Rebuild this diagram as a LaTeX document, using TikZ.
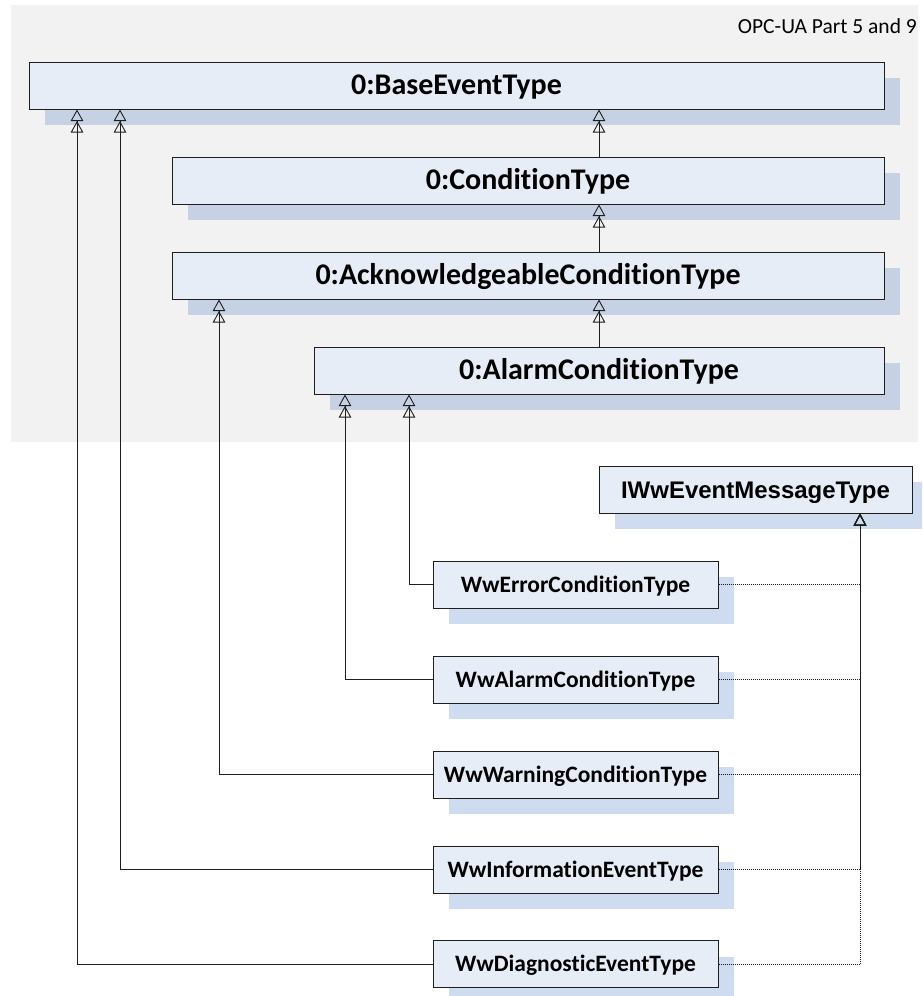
\documentclass[tikz,border=0pt]{standalone}
\usepackage{fontspec}
\setmainfont{Carlito}[Ligatures=NoCommon]
\newfontfamily\arialfont{Liberation Sans}
\usetikzlibrary{arrows.meta,shadows}

\definecolor{panelgray}{RGB}{242,242,242}
\definecolor{boxfill}{RGB}{230,237,247}
\definecolor{shadowtop}{RGB}{198,209,227}
\definecolor{shadowlow}{RGB}{207,219,238}
\definecolor{edgecol}{RGB}{30,30,30}

\begin{document}
\begin{tikzpicture}[x=1pt,y=-1pt,
  typebox/.style={draw=edgecol,line width=1pt,fill=boxfill,inner sep=0pt,
    minimum height=47pt,anchor=center},
  topbox/.style={typebox,font=\fontsize{30}{34}\selectfont\bfseries,
    text height=18.5pt,text depth=0pt,
    drop shadow={shadow xshift=15.5pt,shadow yshift=-16pt,fill=shadowtop,draw=none,opacity=1}},
  lowbox/.style={typebox,minimum width=285pt,
    font=\fontsize{23.5}{27}\selectfont\bfseries,
    text height=15pt,text depth=0pt,
    drop shadow={shadow xshift=15.5pt,shadow yshift=-16pt,fill=shadowlow,draw=none,opacity=1}},
  ifacebox/.style={typebox,minimum width=313pt,
    font=\arialfont\fontsize{24}{28}\selectfont\bfseries,
    text height=17pt,text depth=0pt,
    drop shadow={shadow xshift=15.5pt,shadow yshift=-16pt,fill=shadowlow,draw=none,opacity=1}},
  inherit/.style={draw=edgecol,line width=0.9pt,
    -{Triangle[open,length=11.5pt,width=12.5pt]Triangle[open,length=11.5pt,width=12.5pt]}},
  realize/.style={draw=edgecol,line width=1pt,dash pattern=on 1pt off 1pt,
    -{Triangle[open,length=12pt,width=12.5pt]}},
]
\useasboundingbox (0,0) rectangle (922,996);
\clip (0,0) rectangle (922,996);

% namespace panel
\fill[panelgray] (11,5) rectangle (918,442);
\node[anchor=east,inner sep=0pt,font=\fontsize{21.5}{25}\selectfont,
  text height=13pt,text depth=0pt] (ns) at (917,26.7) {OPC-UA Part 5 and 9};

% standard types
\node[topbox,minimum width=855pt] (base)  at (456.5,85.5)  {0:BaseEventType};
\node[topbox,minimum width=712pt] (cond)  at (528,180.5)   {0:ConditionType};
\node[topbox,minimum width=712pt] (ack)   at (528,275.5)   {0:AcknowledgeableConditionType};
\node[topbox,minimum width=570pt] (alarm) at (599,370.5)   {0:AlarmConditionType};

% interface
\node[ifacebox] (iww) at (755.5,489.5) {IWwEventMessageType};

% derived types
\node[lowbox] (err)  at (575.5,584.5) {WwErrorConditionType};
\node[lowbox] (alc)  at (575.5,679.5) {WwAlarmConditionType};
\node[lowbox] (warn) at (575.5,774.5) {WwWarningConditionType};
\node[lowbox] (info) at (575.5,869.5) {WwInformationEventType};
\node[lowbox] (diag) at (575.5,964)   {WwDiagnosticEventType};

% connector columns
\coordinate (xmain) at (599,0);
\coordinate (xerr)  at (409,0);
\coordinate (xalc)  at (345,0);
\coordinate (xwarn) at (219,0);
\coordinate (xinfo) at (120,0);
\coordinate (xdiag) at (77,0);
\coordinate (xbus)  at (860,0);

% inheritance
\draw[inherit] (cond.north -| xmain)  -- (base.south -| xmain);
\draw[inherit] (ack.north -| xmain)   -- (cond.south -| xmain);
\draw[inherit] (alarm.north -| xmain) -- (ack.south -| xmain);
\draw[inherit] (err.west)  -| (alarm.south -| xerr);
\draw[inherit] (alc.west)  -| (alarm.south -| xalc);
\draw[inherit] (warn.west) -| (ack.south -| xwarn);
\draw[inherit] (info.west) -| (base.south -| xinfo);
\draw[inherit] (diag.west) -| (base.south -| xdiag);

% interface realization
\draw[realize] (err.east)  -| (iww.south -| xbus);
\draw[realize] (alc.east)  -| (iww.south -| xbus);
\draw[realize] (warn.east) -| (iww.south -| xbus);
\draw[realize] (info.east) -| (iww.south -| xbus);
\draw[realize] (diag.east) -| (iww.south -| xbus);
\end{tikzpicture}
\end{document}
